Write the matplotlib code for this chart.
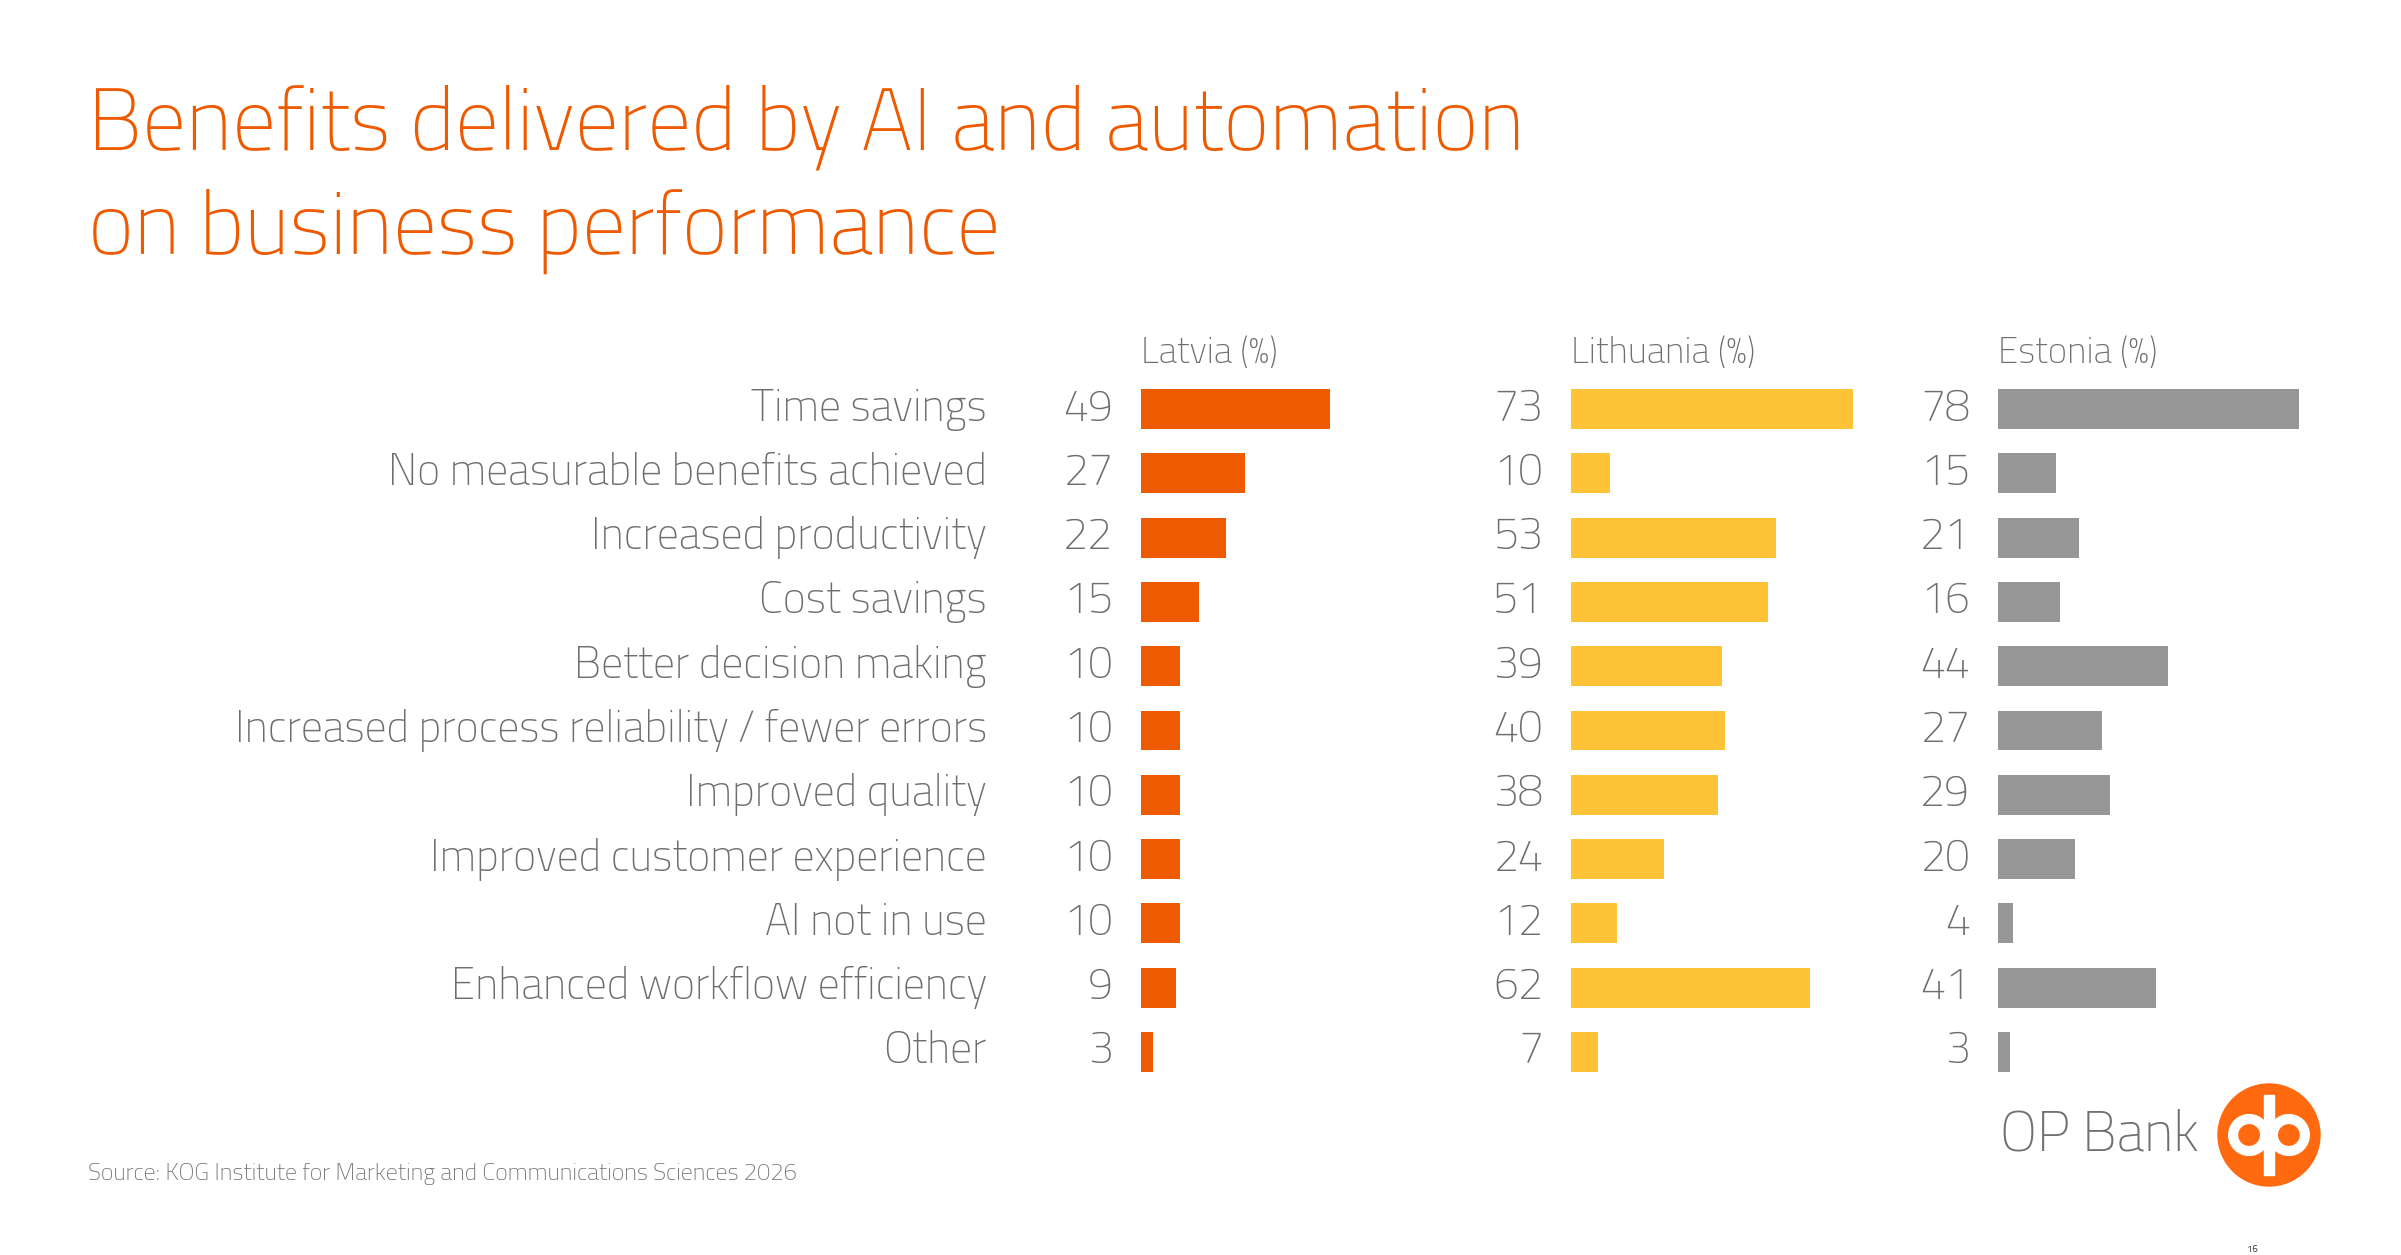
import matplotlib
matplotlib.use("Agg")
import matplotlib.pyplot as plt
from matplotlib.patches import Circle, Rectangle

plt.rcParams['font.family'] = ['Titillium Web', 'Barlow Semi Condensed', 'Roboto Condensed', 'Roboto', 'DejaVu Sans']
plt.rcParams['font.weight'] = 'light'

# data
categories = ["Time savings", "No measurable benefits achieved", "Increased productivity",
              "Cost savings", "Better decision making",
              "Increased process reliability / fewer errors", "Improved quality",
              "Improved customer experience", "AI not in use",
              "Enhanced workflow efficiency", "Other"]
latvia = [49, 27, 22, 15, 10, 10, 10, 10, 10, 9, 3]
lithuania = [73, 10, 53, 51, 39, 40, 38, 24, 12, 62, 7]
estonia = [78, 15, 21, 16, 44, 27, 29, 20, 4, 41, 3]
countries = ["Latvia (%)", "Lithuania (%)", "Estonia (%)"]

orange = "#EE5A00"
yellow = "#FFC338"
grey = "#969696"
text_grey = "#6E6E6E"

W, H = 2401, 1255
fig = plt.figure(figsize=(W / 100, H / 100), dpi=100)

# title
fig.text(88 / W, 1 - 84 / H, "Benefits delivered by AI and automation\non business performance",
         color=orange, fontsize=63, va='top', ha='left', linespacing=1.3)

lefts = [1141, 1571, 1998]
series = [latvia, lithuania, estonia]
colors = [orange, yellow, grey]
top_px, bot_px = 377, 1084

for k in range(3):
    ax = fig.add_axes([lefts[k] / W, 1 - bot_px / H, 386 / W, (bot_px - top_px) / H])
    y = list(range(len(categories)))
    ax.barh(y, series[k], height=0.62, color=colors[k])
    ax.set_xlim(0, 100)
    ax.set_ylim(len(categories) - 0.5, -0.5)
    for s in ax.spines.values():
        s.set_visible(False)
    ax.set_xticks([])
    if k == 0:
        ax.set_yticks(y)
        ax.set_yticklabels(categories, fontsize=31.5, color=text_grey, va='center')
        ax.tick_params(axis='y', length=0, pad=111)
    else:
        ax.set_yticks([])
    for i, v in enumerate(series[k]):
        ax.annotate(str(v), (0, i), xytext=(-20, 0), textcoords='offset points',
                    ha='right', va='center', fontsize=32, color=text_grey)
    ax.text(0, -0.86, countries[k], ha='left', va='center', fontsize=26.5, color=text_grey)

# source
fig.text(88 / W, 1 - 1174 / H,
         "Source: KOG Institute for Marketing and Communications Sciences 2026",
         fontsize=17.2, color=text_grey, va='center', ha='left')

# logo
fig.text(2000 / W, 1 - 1136 / H, "OP Bank", fontsize=40, color="#707070",
         va='center', ha='left')
lax = fig.add_axes([0, 0, 1, 1], facecolor='none')
lax.set_xlim(0, W)
lax.set_ylim(H, 0)
lax.axis('off')
cx, cy, r = 2269, 1135, 51
lax.add_patch(Circle((cx, cy), r, color="#FF6A10"))
lax.add_patch(Circle((cx - 0.39 * r, cy), 0.4 * r, color='white'))
lax.add_patch(Circle((cx + 0.39 * r, cy), 0.4 * r, color='white'))
lax.add_patch(Circle((cx - 0.39 * r, cy), 0.2 * r, color="#FF6A10"))
lax.add_patch(Circle((cx + 0.39 * r, cy), 0.2 * r, color="#FF6A10"))
lax.add_patch(Rectangle((cx - 0.1 * r, cy - 0.78 * r), 0.2 * r, 1.56 * r, color='white'))

fig.text(2252 / W, 1 - 1249 / H, "16", fontsize=7, fontweight='normal', color="#333333",
         ha='center', va='center')

fig.savefig("out.png", dpi=100)
